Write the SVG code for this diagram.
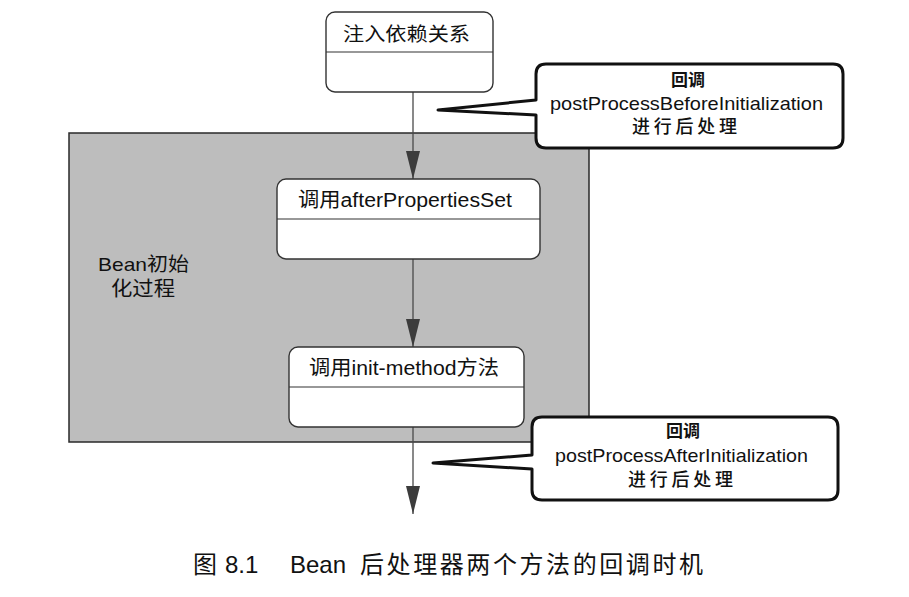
<svg xmlns="http://www.w3.org/2000/svg" width="909" height="597" viewBox="0 0 909 597">
  <style>
    .bg { fill: #ffffff; }
    .frame { fill: #bdbdbd; stroke: #2a2a2a; stroke-width: 1.5; }
    .node { fill: #ffffff; stroke: #333333; stroke-width: 1.4; }
    .div { stroke: #333333; stroke-width: 1.2; }
    .callout { fill: #ffffff; stroke: #111111; stroke-width: 3; stroke-linejoin: round; }
    .conn { stroke: #4a4a4a; stroke-width: 1.3; fill: none; }
    .t { font-family: "Liberation Sans", "Noto Sans CJK SC", sans-serif; fill: #111111; }
    .cn { font-family: "Noto Sans CJK SC", "Liberation Sans", sans-serif; fill: #111111; }
  </style>
  <defs>
    <marker id="arrow" markerUnits="userSpaceOnUse" markerWidth="28" markerHeight="14" viewBox="0 0 28 14" refX="28" refY="7" orient="auto">
      <path d="M0,0 L28,7 L0,14 Z" fill="#3c3c3c"/>
    </marker>
  </defs>
  <rect class="bg" x="0" y="0" width="909" height="597"/>

  <g id="bean-init-frame">
    <rect class="frame" x="69" y="133" width="520" height="309"/>
    <text class="t" font-size="19" x="98" y="271" textLength="91" lengthAdjust="spacingAndGlyphs">Bean初始</text>
    <text class="t" font-size="20" x="111" y="296" textLength="64" lengthAdjust="spacingAndGlyphs">化过程</text>
  </g>

  <g id="connectors">
    <line class="conn" x1="413" y1="92" x2="413" y2="179" marker-end="url(#arrow)"/>
    <line class="conn" x1="413" y1="259" x2="413" y2="347" marker-end="url(#arrow)"/>
    <line class="conn" x1="413" y1="427" x2="413" y2="514" marker-end="url(#arrow)"/>
  </g>

  <g id="node-inject">
    <rect class="node" x="326" y="12" width="167" height="80" rx="9"/>
    <line class="div" x1="326" y1="52" x2="493" y2="52"/>
    <text class="t" font-size="19" x="343" y="41" textLength="127" lengthAdjust="spacingAndGlyphs">注入依赖关系</text>
  </g>

  <g id="node-afterPropertiesSet">
    <rect class="node" x="277" y="179" width="263" height="80" rx="9"/>
    <line class="div" x1="277" y1="219" x2="540" y2="219"/>
    <text class="t" font-size="20" x="298" y="207" textLength="214" lengthAdjust="spacingAndGlyphs">调用afterPropertiesSet</text>
  </g>

  <g id="node-init-method">
    <rect class="node" x="289" y="347" width="235" height="80" rx="9"/>
    <line class="div" x1="289" y1="387" x2="524" y2="387"/>
    <text class="t" font-size="20" x="309" y="375" textLength="190" lengthAdjust="spacingAndGlyphs">调用init-method方法</text>
  </g>

  <g id="callout-before">
    <path class="callout" d="M546,64 H833 Q843,64 843,74 V138 Q843,148 833,148 H546 Q536,148 536,138 V115 L438,110 L536,100 V74 Q536,64 546,64 Z"/>
    <text class="cn" font-size="17" font-weight="bold" x="688" y="86" text-anchor="middle">回调</text>
    <text class="t" font-size="19" x="550" y="110" textLength="273" lengthAdjust="spacingAndGlyphs">postProcessBeforeInitialization</text>
    <text class="cn" font-size="18" font-weight="500" x="632" y="133" textLength="105" lengthAdjust="spacing">进行后处理</text>
  </g>

  <g id="callout-after">
    <path class="callout" d="M542,417 H828 Q838,417 838,427 V490 Q838,500 828,500 H542 Q532,500 532,490 V469 L433,463 L532,455 V427 Q532,417 542,417 Z"/>
    <text class="cn" font-size="17" font-weight="bold" x="683" y="437" text-anchor="middle">回调</text>
    <text class="t" font-size="19" x="555" y="462" textLength="253" lengthAdjust="spacingAndGlyphs">postProcessAfterInitialization</text>
    <text class="cn" font-size="18" font-weight="500" x="628" y="486" textLength="105" lengthAdjust="spacing">进行后处理</text>
  </g>

  <g id="caption">
    <text class="t" font-size="24" y="573"><tspan x="193">图</tspan><tspan x="225">8.1</tspan><tspan x="290">Bean</tspan><tspan x="360" textLength="343" lengthAdjust="spacing">后处理器两个方法的回调时机</tspan></text>
  </g>
</svg>
